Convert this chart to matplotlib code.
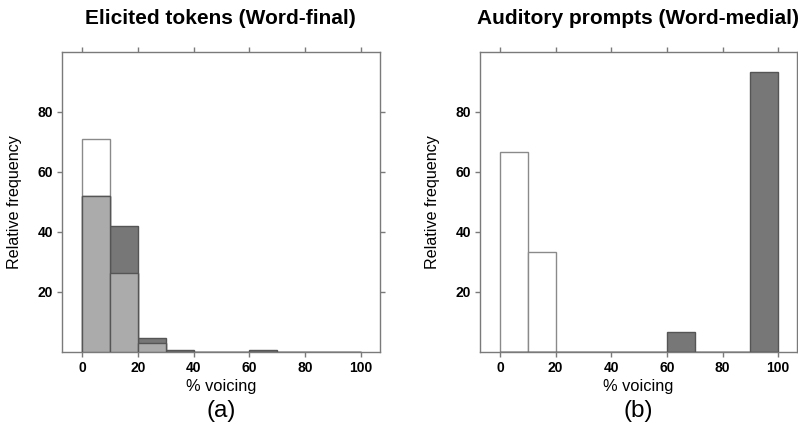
import numpy as np
import matplotlib
matplotlib.use("Agg")
import matplotlib.pyplot as plt

plt.rcParams['font.family'] = ['Liberation Sans', 'DejaVu Sans']

# histogram bins (% voicing), 10-point wide
bin_edges = np.arange(0, 101, 10)

# panel (a): elicited tokens, word-final
a_voiceless = [71.0, 26.3, 3.0, 0, 0, 0, 0, 0, 0, 0]
a_voiced    = [52.1, 42.0, 4.6, 0.6, 0, 0, 0.6, 0, 0, 0]

# panel (b): auditory prompts, word-medial
b_voiceless = [66.7, 33.3, 0, 0, 0, 0, 0, 0, 0, 0]
b_voiced    = [0, 0, 0, 0, 0, 0, 6.7, 0, 0, 93.3]

titles = ['Elicited tokens (Word-final)', 'Auditory prompts (Word-medial)']
panel_tags = ['(a)', '(b)']

spine_col = '#7a7a7a'
dark_col = '#777777'
light_col = '#ababab'


def draw_hist(ax, voiceless, voiced, title, tag):
    left = bin_edges[:-1]
    w = np.diff(bin_edges)
    voiceless = np.asarray(voiceless)
    voiced = np.asarray(voiced)
    both = np.minimum(voiceless, voiced)

    # voiceless alone (white), voiced alone (dark), overlap (light grey)
    ax.bar(left, voiceless, width=w, align='edge', color='white',
           edgecolor='#8a8a8a', linewidth=1.0, zorder=2)
    ax.bar(left, voiced, width=w, align='edge', color=dark_col,
           edgecolor='#555555', linewidth=1.0, zorder=3)
    ax.bar(left, both, width=w, align='edge', color=light_col,
           edgecolor='#555555', linewidth=1.0, zorder=4)

    ax.set_xlim(-7.2, 106.7)
    ax.set_ylim(0, 100)
    ax.set_xticks([0, 20, 40, 60, 80, 100])
    ax.set_yticks([20, 40, 60, 80])
    ax.tick_params(direction='out', length=3.5, width=1.0, color=spine_col,
                   top=True, right=True, labelsize=10, pad=3)
    for lab in ax.get_xticklabels() + ax.get_yticklabels():
        lab.set_fontweight('bold')
    for sp in ax.spines.values():
        sp.set_color(spine_col)
        sp.set_linewidth(1.0)

    ax.set_xlabel('% voicing', fontsize=11.8)
    ax.xaxis.set_label_coords(0.5, -0.092)
    ax.set_ylabel('Relative frequency', fontsize=11.6)
    ax.yaxis.set_label_coords(-0.125, 0.5)
    ax.set_title(title, fontsize=15, fontweight='bold', pad=20.5)
    ax.text(0.5, -0.163, tag, transform=ax.transAxes, ha='center', va='top',
            fontsize=17.5)


fig = plt.figure(figsize=(7.98, 4.32), dpi=100)
ax1 = fig.add_axes([0.0777, 0.186, 0.398, 0.6935])
ax2 = fig.add_axes([0.6015, 0.186, 0.397, 0.6935])

draw_hist(ax1, a_voiceless, a_voiced, titles[0], panel_tags[0])
draw_hist(ax2, b_voiceless, b_voiced, titles[1], panel_tags[1])

fig.savefig('out.png', dpi=100)
